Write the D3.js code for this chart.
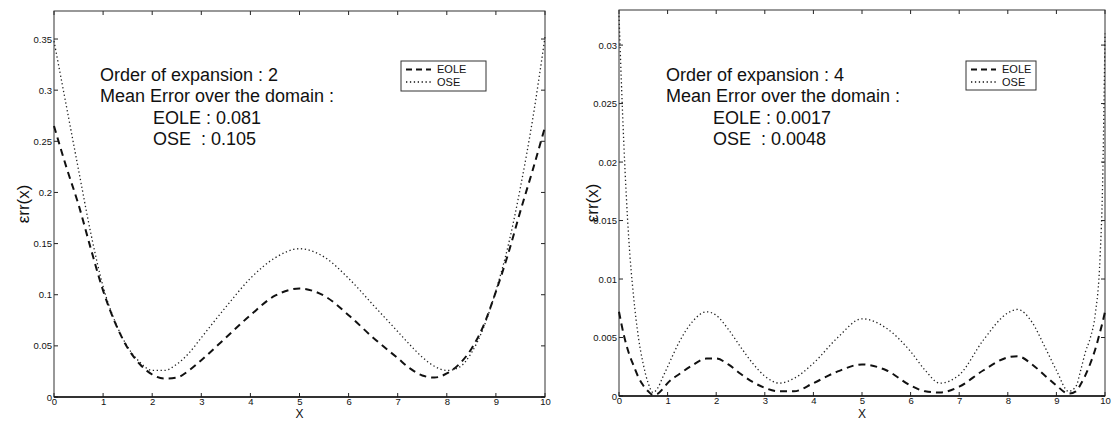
<!DOCTYPE html>
<html>
<head>
<meta charset="utf-8">
<script src="https://cdn.jsdelivr.net/npm/d3@7"></script>
<style>
  html, body { margin: 0; padding: 0; background: #fff; }
  svg { display: block; }
  text { font-family: "Liberation Sans", Arial, Helvetica, sans-serif; fill: #111; }
</style>
</head>
<body>
<svg id="chart" width="1116" height="421"></svg>
<script>
// ---- Data -------------------------------------------------------------
// Order-2 expansion: pointwise error over the domain [0, 10]
const xOrder2 = [0, 0.25, 0.5, 0.75, 1, 1.25, 1.5, 1.75, 2, 2.25, 2.5, 2.75, 3, 3.5, 4, 4.5, 5,
                 5.5, 6, 6.5, 7, 7.25, 7.5, 7.75, 8, 8.25, 8.5, 8.75, 9, 9.25, 9.5, 9.75, 10];
const eoleOrder2 = [0.265, 0.225, 0.188, 0.145, 0.104, 0.072, 0.048, 0.032, 0.022, 0.018, 0.019, 0.026, 0.036, 0.058, 0.080, 0.099, 0.106,
                    0.099, 0.080, 0.058, 0.038, 0.028, 0.021, 0.019, 0.023, 0.032, 0.047, 0.070, 0.103, 0.140, 0.182, 0.222, 0.264];
const oseOrder2  = [0.348, 0.285, 0.222, 0.160, 0.108, 0.073, 0.049, 0.034, 0.026, 0.026, 0.032, 0.043, 0.058, 0.088, 0.116, 0.136, 0.145,
                    0.137, 0.116, 0.090, 0.064, 0.051, 0.039, 0.030, 0.026, 0.029, 0.043, 0.068, 0.104, 0.148, 0.205, 0.272, 0.352];

// Order-4 expansion
const xOrder4 = [0, 0.1, 0.2, 0.3, 0.4, 0.5, 0.6, 0.7, 0.8, 0.9, 1, 1.25, 1.5, 1.8, 2, 2.25, 2.5, 2.75, 3, 3.3, 3.6, 4, 4.5, 5,
                 5.5, 6, 6.3, 6.6, 7, 7.5, 8, 8.2, 8.5, 8.75, 9, 9.25, 9.4, 9.5, 9.6, 9.7, 9.8, 9.9, 9.95, 10];
const eoleOrder4 = [0.0072, 0.0052, 0.0037, 0.0026, 0.0016, 0.0009, 0.0004, 0.0001, 0.0002, 0.0006, 0.0011, 0.0019, 0.0026, 0.0032, 0.0032,
                    0.0027, 0.0019, 0.0012, 0.0007, 0.0004, 0.0004, 0.0011, 0.0021, 0.0027,
                    0.0022, 0.0009, 0.0004, 0.0003, 0.0008, 0.0022, 0.0033, 0.0034, 0.0027, 0.0018, 0.0009, 0.0002, 0.0004, 0.0010,
                    0.0018, 0.0028, 0.0040, 0.0055, 0.0063, 0.0072];
const oseOrder4  = [0.0325, 0.0215, 0.0135, 0.0085, 0.0050, 0.0027, 0.0011, 0.0003, 0.0007, 0.0016, 0.0025, 0.0047, 0.0063, 0.0072, 0.0069,
                    0.0057, 0.0042, 0.0028, 0.0017, 0.0011, 0.0015, 0.0028, 0.0050, 0.0066,
                    0.0058, 0.0038, 0.0022, 0.0011, 0.0018, 0.0048, 0.0071, 0.0074, 0.0063, 0.0043, 0.0022, 0.0004, 0.0008, 0.0022,
                    0.0038, 0.0050, 0.0070, 0.0120, 0.0180, 0.0310];

// Axis ticks
const xTicks = [0, 1, 2, 3, 4, 5, 6, 7, 8, 9, 10];
const yTicksOrder2 = [0, 0.05, 0.1, 0.15, 0.2, 0.25, 0.3, 0.35];
const yTickLabelsOrder2 = ["0", "0.05", "0.1", "0.15", "0.2", "0.25", "0.3", "0.35"];
const yTicksOrder4 = [0, 0.005, 0.01, 0.015, 0.02, 0.025, 0.03];
const yTickLabelsOrder4 = ["0", "0.005", "0.01", "0.015", "0.02", "0.025", "0.03"];

// Annotation text
const notesOrder2 = ["Order of expansion : 2", "Mean Error over the domain :", "EOLE : 0.081", "OSE  : 0.105"];
const notesOrder4 = ["Order of expansion : 4", "Mean Error over the domain :", "EOLE : 0.0017", "OSE  : 0.0048"];
const seriesNames = ["EOLE", "OSE"];

// ---- Layout -----------------------------------------------------------
const panels = [
  { left: 54, right: 545, top: 11, bottom: 397, yMax: 0.3774,
    x: xOrder2, eole: eoleOrder2, ose: oseOrder2,
    yTicks: yTicksOrder2, yLabels: yTickLabelsOrder2, notes: notesOrder2,
    noteX: 100, noteIndent: 153, legend: { x: 401, y: 61, w: 85, h: 30 }, yTitleX: 23 },
  { left: 619, right: 1105, top: 10, bottom: 396, yMax: 0.033,
    x: xOrder4, eole: eoleOrder4, ose: oseOrder4,
    yTicks: yTicksOrder4, yLabels: yTickLabelsOrder4, notes: notesOrder4,
    noteX: 666, noteIndent: 713, legend: { x: 966, y: 61, w: 70, h: 29 }, yTitleX: 592 }
];

const svg = d3.select("#chart");

panels.forEach(p => {
  const x = d3.scaleLinear().domain([0, 10]).range([p.left, p.right]);
  const y = d3.scaleLinear().domain([0, p.yMax]).range([p.bottom, p.top]);
  const g = svg.append("g");

  // Tick labels
  const bottomAxis = d3.axisBottom(x).tickValues(xTicks).tickSize(0).tickPadding(1).tickFormat(d3.format("d"));
  g.append("g").attr("transform", `translate(0,${p.bottom})`).call(bottomAxis)
    .call(a => a.select(".domain").remove())
    .call(a => a.selectAll("text").attr("font-size", 9.5).attr("fill", "#222")
      .style("font-family", "'Liberation Sans', Arial, sans-serif"));
  const leftAxis = d3.axisLeft(y).tickValues(p.yTicks).tickSize(0).tickPadding(2)
    .tickFormat((d, i) => p.yLabels[i]);
  g.append("g").attr("transform", `translate(${p.left},0)`).call(leftAxis)
    .call(a => a.select(".domain").remove())
    .call(a => a.selectAll("text").attr("font-size", 9.5).attr("fill", "#222")
      .style("font-family", "'Liberation Sans', Arial, sans-serif"));

  // Inward ticks on all four sides (box style)
  const tickLen = 4;
  const tk = g.append("g").attr("stroke", "#222").attr("stroke-width", 1);
  xTicks.forEach(v => {
    tk.append("line").attr("x1", x(v)).attr("x2", x(v)).attr("y1", p.bottom).attr("y2", p.bottom - tickLen);
    tk.append("line").attr("x1", x(v)).attr("x2", x(v)).attr("y1", p.top).attr("y2", p.top + tickLen);
  });
  p.yTicks.forEach(v => {
    tk.append("line").attr("x1", p.left).attr("x2", p.left + tickLen).attr("y1", y(v)).attr("y2", y(v));
    tk.append("line").attr("x1", p.right).attr("x2", p.right - tickLen).attr("y1", y(v)).attr("y2", y(v));
  });

  // Frame
  g.append("rect")
    .attr("x", p.left).attr("y", p.top)
    .attr("width", p.right - p.left).attr("height", p.bottom - p.top)
    .attr("fill", "none").attr("stroke", "#333").attr("stroke-width", 1);
  g.append("line").attr("x1", p.left).attr("x2", p.right).attr("y1", p.bottom).attr("y2", p.bottom)
    .attr("stroke", "#111").attr("stroke-width", 1.6);

  // Curves
  const line = vals => d3.line()
    .x((d, i) => x(p.x[i]))
    .y(d => y(d))
    .curve(d3.curveMonotoneX)(vals);

  g.append("path").attr("d", line(p.ose))
    .attr("fill", "none").attr("stroke", "#222").attr("stroke-width", 1.3)
    .attr("stroke-dasharray", "1.3,2.6");
  g.append("path").attr("d", line(p.eole))
    .attr("fill", "none").attr("stroke", "#111").attr("stroke-width", 2)
    .attr("stroke-dasharray", "7,5");

  // Axis titles
  g.append("text")
    .attr("transform", `translate(${p.yTitleX},${(p.top + p.bottom) / 2}) rotate(-90)`)
    .attr("text-anchor", "middle").attr("dy", "0.35em")
    .attr("font-size", 17).text("εrr(x)");
  g.append("text")
    .attr("x", x(5)).attr("y", 417.5)
    .attr("text-anchor", "middle").attr("font-size", 12).text("X");

  // Annotation block
  p.notes.forEach((t, i) => {
    g.append("text")
      .attr("x", i < 2 ? p.noteX : p.noteIndent)
      .attr("y", 81 + i * 21.3)
      .attr("font-size", 18)
      .style("white-space", "pre")
      .text(t);
  });

  // Legend
  const L = p.legend;
  const lg = g.append("g");
  lg.append("rect").attr("x", L.x).attr("y", L.y).attr("width", L.w).attr("height", L.h)
    .attr("fill", "#fff").attr("stroke", "#333").attr("stroke-width", 1);
  const rows = [
    { name: seriesNames[0], dash: "6,4", w: 2, yy: L.y + 8.5 },
    { name: seriesNames[1], dash: "1.3,2.6", w: 1.3, yy: L.y + 21 }
  ];
  rows.forEach(r => {
    lg.append("line").attr("x1", L.x + 5).attr("x2", L.x + 30).attr("y1", r.yy).attr("y2", r.yy)
      .attr("stroke", "#111").attr("stroke-width", r.w).attr("stroke-dasharray", r.dash);
    lg.append("text").attr("x", L.x + 36).attr("y", r.yy).attr("dy", "0.35em")
      .attr("font-size", 11).text(r.name);
  });
});
</script>
</body>
</html>
